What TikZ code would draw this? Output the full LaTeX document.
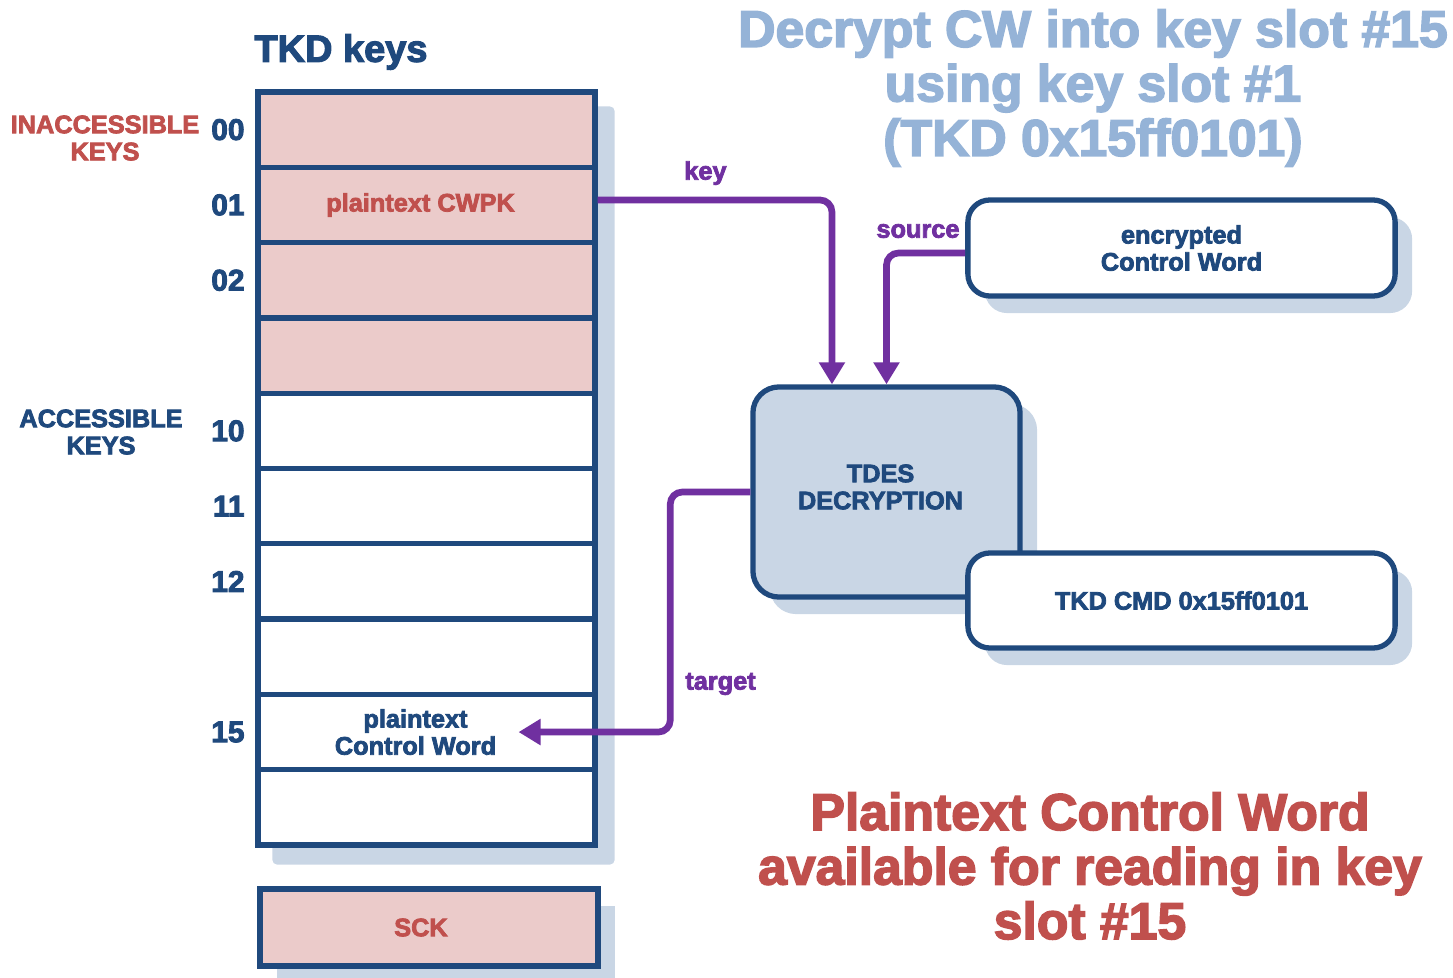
\documentclass[tikz,border=0pt]{standalone}
\usepackage{fontspec}
\setmainfont{Liberation Sans}[BoldFeatures={FakeBold=3}]
\usetikzlibrary{positioning,arrows.meta,shadows,backgrounds}

\definecolor{navy}{HTML}{1F497D}
\definecolor{paleblue}{HTML}{C9D6E5}
\definecolor{rose}{HTML}{EBCBCA}
\definecolor{brick}{HTML}{C0504D}
\definecolor{plum}{HTML}{7030A0}
\definecolor{sky}{HTML}{95B3D7}

\newcommand{\smallbold}{\fontsize{7.2}{7.7}\selectfont\bfseries}
\newcommand{\numbold}{\fontsize{8.5}{9}\selectfont\bfseries}
\newcommand{\bigbold}{\fontsize{14.7}{15.5}\selectfont\bfseries}

\tikzset{
  slot/.style={draw=navy, line width=1.5pt, minimum width=3.37cm,
    minimum height=0.753cm, inner sep=0pt},
  box/.style={draw=navy, line width=1.5pt, rounded corners=0.22cm,
    fill=white, align=center, text=navy, font=\smallbold,
    drop shadow={shadow xshift=0.17cm, shadow yshift=-0.17cm,
      fill=paleblue, opacity=1}},
  flow/.style={draw=plum, line width=1.9pt, rounded corners=0.12cm,
    -{Triangle[width=0.25cm,length=0.22cm]}},
  flowlabel/.style={font=\smallbold, text=plum},
  num/.style={font=\numbold, text=navy, inner sep=0pt},
}

\begin{document}
\begin{tikzpicture}[x=0.01cm, y=-0.01cm]
  \useasboundingbox (0,0) rectangle (1453,978);

  % key table
  \foreach \i/\c in {0/rose,1/rose,2/rose,3/rose,4/white,5/white,6/white,7/white,8/white,9/white}
    \node [slot, fill=\c] (r\i) at (426.5, {92+75.3*(\i+0.5)}) {};
  \begin{scope}[on background layer]
    \fill [paleblue, rounded corners=0.05cm] ([shift={(0.17cm,-0.17cm)}]r0.north west)
      rectangle ([shift={(0.17cm,-0.17cm)}]r9.south east);
  \end{scope}
  \foreach \i/\t in {0/00,1/01,2/02,4/10,5/11,6/12,8/15}
    \node [num, left=0.1cm of r\i] (n\t) {\t};

  \node [font=\fontsize{10.8}{12}\selectfont\bfseries, text=navy] (tkd) at (341, 52) {TKD keys};
  \node [font=\smallbold, text=brick, align=center] (inacc) at (105, 138) {INACCESSIBLE\\KEYS};
  \node [font=\smallbold, text=navy, align=center] (acc) at (101, 432) {ACCESSIBLE\\KEYS};

  \node [font=\smallbold, text=brick, xshift=-0.06cm] (cwpk) at (r1) {plaintext CWPK};
  \node [font=\smallbold, text=navy, align=center, xshift=-0.11cm] (pcw) at (r8) {plaintext\\Control Word};

  \node [slot, fill=rose, minimum width=3.38cm, minimum height=0.77cm,
    drop shadow={shadow xshift=0.17cm, shadow yshift=-0.17cm, fill=paleblue, opacity=1}]
    (sck) at (429, 927.5) {};
  \node [font=\smallbold, text=brick] (scklabel) at ([xshift=-0.08cm]sck.center) {SCK};

  % decryption unit
  \node [box, fill=paleblue, minimum width=2.67cm, minimum height=2.1cm,
    rounded corners=0.26cm] (tdes) at (886.5, 492) {};
  \node [font=\smallbold, text=navy, align=center] (tdeslabel) at ([shift={(-0.06cm,0.05cm)}]tdes.center) {TDES\\DECRYPTION};
  \node [box, minimum width=4.27cm, minimum height=0.96cm] (enc) at (1181.5, 248) {encrypted\\Control Word};
  \node [box, minimum width=4.27cm, minimum height=0.95cm] (cmd) at (1181.5, 600.5) {TKD CMD 0x15ff0101};

  % connectors
  \draw [flow] ([yshift=0.05cm]r1.east) -| ([xshift=-0.545cm]tdes.north)
    node [flowlabel, above, pos=0.23] {key};
  \draw [flow] ([yshift=-0.05cm]enc.west) -| (tdes.north)
    node [flowlabel, above, pos=0.3] {source};
  \coordinate (tgt) at ([xshift=0.1cm]pcw.east);
  \draw [flow] (tdes.west) -- ++(-80,0) |- (tgt)
    node [flowlabel, right, pos=0.4] {target};

  % captions
  \node [font=\bigbold, text=sky, align=center] (head) at (1093, 88)
    {Decrypt CW into key slot \#15\\using key slot \#1\\(TKD 0x15ff0101)};
  \node [font=\bigbold, text=brick, align=center] (note) at (1090, 866)
    {Plaintext Control Word\\available for reading in key\\slot \#15};
\end{tikzpicture}
\end{document}
